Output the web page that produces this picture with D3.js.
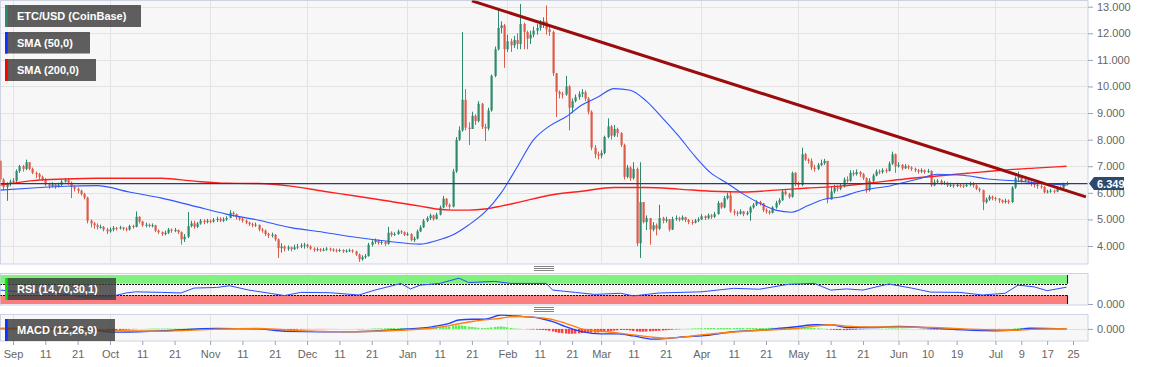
<!DOCTYPE html>
<html>
<head>
<meta charset="utf-8">
<script src="https://cdn.jsdelivr.net/npm/d3@7/dist/d3.min.js"></script>
<style>
    body { margin: 0; background: #fff; }
    svg { display: block; font-family: Arial, "Liberation Sans", sans-serif; }
    .axis path { display: none; }
    .axis line { stroke: #9aa3b5; }
    .axis text { fill: #666; font-size: 11px; }
</style>
</head>
<body>
<div id="chart"></div>
<script>
// Daily candles, day 0 = 2019-08-28. Open of each day = previous close.
const firstDay = Date.UTC(2019, 7, 28);
const firstOpen = 7.20;

const closes = [
    6.50, 6.22, 6.35, 6.42, 6.45, 6.82, 7.00, 6.90, 7.15, 6.90,
    6.75, 6.70, 6.60, 6.52, 6.32, 6.25, 6.32, 6.22, 6.30, 6.42,
    6.48, 6.38, 6.22, 6.15, 6.08, 5.95, 5.82, 4.95, 4.85, 4.78,
    4.72, 4.72, 4.62, 4.55, 4.62, 4.68, 4.66, 4.70, 4.65, 4.62,
    4.75, 4.72, 5.10, 4.92, 4.78, 4.80, 4.75, 4.78, 4.58, 4.52,
    4.45, 4.50, 4.62, 4.58, 4.60, 4.52, 4.25, 4.35, 4.75, 4.85,
    4.72, 4.85, 4.95, 4.90, 4.95, 4.92, 4.98, 5.02, 4.95, 5.00,
    5.05, 5.25, 5.20, 5.08, 5.02, 4.95, 4.88, 4.82, 4.78, 4.80,
    4.62, 4.58, 4.45, 4.40, 4.42, 4.25, 3.92, 3.98, 3.90, 3.95,
    3.88, 3.95, 3.98, 4.02, 4.05, 3.98, 3.90, 3.85, 3.88, 3.84,
    3.86, 3.90, 3.87, 3.84, 3.82, 3.85, 3.80, 3.82, 3.84, 3.80,
    3.68, 3.50, 3.58, 3.62, 4.05, 4.15, 4.22, 4.12, 4.15, 4.08,
    4.50, 4.42, 4.45, 4.55, 4.52, 4.42, 4.45, 4.22, 4.28, 4.55,
    4.70, 4.95, 5.05, 5.15, 5.02, 5.18, 5.45, 5.78, 5.55, 5.48,
    6.80, 8.00, 8.35, 9.50, 8.45, 8.40, 8.90, 8.70, 9.35, 8.48,
    8.42, 9.10, 10.40, 11.40, 12.20, 12.30, 11.40, 11.70, 11.55, 11.75,
    11.60, 12.35, 12.05, 11.80, 11.95, 12.10, 12.20, 12.35, 12.45, 12.15,
    12.05, 10.50, 9.80, 9.72, 9.70, 10.00, 9.20, 9.45, 9.60, 9.72,
    9.78, 9.55, 9.05, 7.70, 7.45, 7.40, 7.50, 8.10, 8.50, 8.15,
    8.40, 8.25, 7.80, 6.60, 6.95, 6.55, 6.90, 4.10, 5.65, 4.90,
    5.05, 4.62, 4.78, 4.65, 5.05, 4.95, 5.00, 4.62, 5.02, 5.05,
    5.00, 5.08, 4.98, 4.90, 4.88, 4.95, 5.00, 5.12, 5.05, 5.15,
    5.10, 5.20, 5.62, 5.45, 5.80, 5.90, 5.30, 5.25, 5.22, 5.30,
    5.20, 5.25, 5.45, 5.55, 5.65, 5.60, 5.35, 5.30, 5.25, 5.45,
    5.62, 5.72, 6.05, 5.95, 5.85, 6.75, 6.35, 6.30, 7.45, 7.25,
    7.20, 6.95, 6.90, 7.05, 7.12, 7.20, 5.75, 6.05, 6.20, 6.15,
    6.25, 6.50, 6.45, 6.75, 6.70, 6.78, 6.70, 6.55, 6.10, 6.45,
    6.65, 6.80, 6.78, 6.85, 6.82, 7.10, 7.45, 7.00, 7.05, 6.92,
    7.00, 6.95, 6.90, 6.85, 6.80, 6.85, 6.78, 6.82, 6.28, 6.40,
    6.45, 6.35, 6.38, 6.28, 6.30, 6.25, 6.30, 6.28, 6.25, 6.30,
    6.35, 6.28, 6.15, 6.10, 5.65, 5.75, 5.85, 5.80, 5.78, 5.72,
    5.65, 5.70, 5.65, 6.20, 6.55, 6.62, 6.45, 6.50, 6.40, 6.35,
    6.30, 6.25, 6.22, 6.02, 6.05, 6.08, 6.05, 6.20, 6.18, 6.32, 6.35
];

const highs = [
    7.22, 6.55, 6.40, 6.50, 6.55, 6.88, 7.05, 7.05, 7.25, 7.15,
    6.95, 6.80, 6.75, 6.65, 6.55, 6.38, 6.40, 6.35, 6.38, 6.48,
    6.55, 6.55, 6.42, 6.28, 6.20, 6.12, 6.00, 5.85, 5.00, 4.90,
    4.85, 4.80, 4.75, 4.68, 4.70, 4.75, 4.72, 4.76, 4.72, 4.70,
    4.80, 4.80, 5.30, 5.12, 4.95, 4.88, 4.85, 4.85, 4.80, 4.62,
    4.55, 4.58, 4.68, 4.66, 4.68, 4.62, 4.55, 4.45, 5.28, 4.95,
    4.95, 4.90, 5.02, 5.00, 5.02, 5.00, 5.05, 5.10, 5.08, 5.08,
    5.12, 5.35, 5.30, 5.22, 5.12, 5.08, 5.00, 4.92, 4.88, 4.88,
    4.80, 4.68, 4.62, 4.50, 4.50, 4.45, 4.28, 4.10, 4.02, 4.02,
    3.98, 4.05, 4.08, 4.10, 4.12, 4.08, 4.02, 3.95, 3.95, 3.92,
    3.93, 3.96, 3.94, 3.92, 3.90, 3.90, 3.88, 3.88, 3.90, 3.88,
    3.82, 3.72, 3.65, 3.70, 4.12, 4.22, 4.28, 4.25, 4.22, 4.18,
    4.72, 4.55, 4.52, 4.62, 4.60, 4.55, 4.52, 4.48, 4.35, 4.62,
    4.78, 5.02, 5.12, 5.22, 5.18, 5.25, 5.52, 5.88, 5.80, 5.60,
    6.90, 8.10, 8.50, 12.05, 9.90, 8.65, 9.05, 8.95, 9.45, 9.38,
    8.60, 9.20, 10.45, 11.50, 12.90, 12.45, 12.35, 11.95, 11.80, 11.90,
    12.00, 13.10, 12.40, 12.10, 12.10, 12.25, 12.35, 12.50, 12.60, 13.05,
    12.30, 12.10, 10.45, 9.85, 9.80, 10.40, 10.05, 9.55, 9.70, 9.82,
    9.90, 9.85, 9.60, 9.10, 7.80, 7.55, 7.60, 8.15, 8.80, 8.55,
    8.55, 8.45, 8.28, 7.85, 7.05, 7.00, 7.15, 6.95, 7.15, 5.65,
    5.15, 5.05, 4.90, 4.85, 5.55, 5.10, 5.10, 5.02, 5.10, 5.15,
    5.10, 5.15, 5.10, 5.02, 4.98, 5.02, 5.08, 5.20, 5.15, 5.22,
    5.20, 5.28, 5.70, 5.65, 5.88, 6.00, 6.02, 5.38, 5.32, 5.38,
    5.32, 5.32, 5.50, 5.62, 5.72, 5.70, 5.62, 5.42, 5.35, 5.50,
    5.70, 5.80, 6.12, 6.15, 6.00, 6.80, 6.78, 6.42, 7.70, 7.50,
    7.30, 7.30, 7.05, 7.12, 7.25, 7.28, 7.08, 6.25, 6.30, 6.28,
    6.35, 6.58, 6.62, 6.85, 6.85, 6.88, 6.82, 6.75, 6.58, 6.55,
    6.72, 6.88, 6.88, 6.92, 6.92, 7.18, 7.55, 7.48, 7.15, 7.08,
    7.08, 7.05, 7.00, 6.95, 6.90, 6.92, 6.88, 6.90, 6.85, 6.50,
    6.52, 6.50, 6.45, 6.42, 6.38, 6.35, 6.38, 6.35, 6.32, 6.38,
    6.42, 6.40, 6.32, 6.20, 6.12, 5.82, 5.92, 5.90, 5.85, 5.80,
    5.75, 5.78, 5.75, 6.25, 6.62, 6.80, 6.65, 6.58, 6.52, 6.45,
    6.40, 6.35, 6.32, 6.25, 6.12, 6.15, 6.12, 6.25, 6.25, 6.38, 6.42
];

const lows = [
    6.40, 6.10, 5.70, 6.25, 6.35, 6.40, 6.75, 6.80, 6.85, 6.85,
    6.70, 6.55, 6.50, 6.45, 6.25, 6.15, 6.20, 6.15, 6.20, 6.25,
    6.38, 6.30, 5.80, 6.05, 5.98, 5.90, 5.75, 4.85, 4.70, 4.65,
    4.62, 4.65, 4.55, 4.45, 4.50, 4.55, 4.58, 4.62, 4.58, 4.55,
    4.58, 4.65, 4.70, 4.85, 4.72, 4.70, 4.70, 4.70, 4.52, 4.45,
    4.38, 4.40, 4.45, 4.50, 4.52, 4.45, 4.05, 4.15, 4.30, 4.70,
    4.65, 4.68, 4.80, 4.82, 4.85, 4.85, 4.88, 4.90, 4.90, 4.90,
    4.95, 5.05, 5.10, 5.00, 4.95, 4.88, 4.82, 4.75, 4.70, 4.72,
    4.55, 4.50, 4.38, 4.30, 4.32, 4.18, 3.55, 3.75, 3.80, 3.82,
    3.80, 3.85, 3.88, 3.92, 3.90, 3.92, 3.85, 3.78, 3.80, 3.78,
    3.80, 3.82, 3.80, 3.78, 3.76, 3.78, 3.74, 3.75, 3.77, 3.74,
    3.62, 3.40, 3.45, 3.52, 3.60, 3.98, 4.08, 4.05, 4.05, 4.00,
    4.05, 4.35, 4.38, 4.42, 4.45, 4.38, 4.38, 4.18, 4.15, 4.25,
    4.52, 4.68, 4.90, 4.98, 4.95, 5.00, 5.15, 5.42, 5.48, 5.40,
    5.45, 6.75, 7.95, 8.30, 8.35, 7.80, 8.40, 8.55, 8.65, 8.40,
    7.95, 8.35, 9.05, 10.35, 11.35, 12.00, 10.70, 11.30, 11.30, 11.45,
    11.40, 11.40, 11.40, 11.40, 11.60, 11.85, 11.95, 12.10, 12.20, 11.95,
    11.90, 10.40, 8.85, 9.55, 9.55, 9.65, 8.35, 9.00, 9.40, 9.50,
    9.60, 9.45, 8.95, 7.60, 7.30, 7.25, 7.30, 7.45, 8.05, 8.00,
    8.10, 8.10, 7.72, 6.50, 6.55, 6.45, 6.50, 4.00, 3.55, 4.85,
    4.60, 4.05, 4.55, 4.40, 4.60, 4.85, 4.88, 4.55, 4.60, 4.95,
    4.92, 4.95, 4.90, 4.82, 4.80, 4.85, 4.90, 4.98, 4.98, 5.00,
    5.02, 5.05, 5.18, 5.40, 5.42, 5.75, 5.25, 5.15, 5.12, 5.18,
    5.12, 5.15, 4.95, 5.40, 5.50, 5.52, 5.28, 5.22, 5.18, 5.22,
    5.40, 5.55, 5.70, 5.90, 5.78, 5.82, 6.25, 6.20, 6.25, 7.20,
    7.10, 6.85, 6.80, 6.85, 7.00, 7.05, 5.60, 5.85, 5.98, 6.05,
    6.10, 6.20, 6.38, 6.42, 6.62, 6.65, 6.60, 6.48, 6.00, 6.05,
    6.40, 6.62, 6.70, 6.72, 6.75, 6.80, 7.05, 6.75, 6.95, 6.85,
    6.90, 6.88, 6.82, 6.78, 6.72, 6.75, 6.72, 6.75, 6.22, 6.25,
    6.35, 6.30, 6.30, 6.22, 6.22, 6.18, 6.22, 6.20, 6.18, 6.22,
    6.25, 6.20, 6.10, 6.02, 5.35, 5.60, 5.70, 5.72, 5.70, 5.62,
    5.60, 5.60, 5.58, 5.62, 6.15, 6.40, 6.38, 6.40, 6.32, 6.25,
    6.20, 6.15, 6.15, 5.98, 5.98, 6.00, 5.98, 6.02, 6.10, 6.15, 6.28
];

const lastPrice = 6.349;

// Moving averages, read at sample days
const sma50Days = [0, 10, 20, 30, 40, 50, 60, 70, 80, 90, 100, 110, 120,
    130, 135, 140, 145, 150, 155, 160, 165, 170, 175, 180, 185, 190, 195, 200, 205,
    210, 215, 220, 225, 230, 235, 240, 245, 250, 255, 260, 265, 270, 275, 280, 285,
    290, 295, 300, 305, 310, 315, 320, 325, 330];
const sma50 = [6.10, 6.18, 6.25, 6.27, 6.03, 5.80, 5.50, 5.20, 4.97, 4.69, 4.52, 4.33, 4.18,
    4.07, 4.20, 4.41, 4.79, 5.27, 5.99, 6.97, 7.98, 8.51, 8.85, 9.30, 9.60, 9.92, 9.86, 9.45, 8.81,
    8.13, 7.38, 6.74, 6.36, 5.95, 5.61, 5.35, 5.27, 5.52, 5.76, 5.84, 6.03, 6.16, 6.25, 6.40, 6.55,
    6.70, 6.68, 6.63, 6.53, 6.48, 6.44, 6.38, 6.33, 6.29];

const sma200Days = [0, 10, 20, 30, 40, 50, 60, 70, 80, 90, 100, 110, 120, 130,
    135, 140, 145, 150, 155, 160, 170, 180, 190, 200, 210, 220, 230, 240, 250, 260,
    270, 280, 290, 300, 310, 320, 330];
const sma200 = [6.29, 6.46, 6.52, 6.55, 6.55, 6.55, 6.44, 6.36, 6.35, 6.25, 6.06, 5.88, 5.69, 5.50,
    5.39, 5.35, 5.35, 5.39, 5.50, 5.63, 5.91, 6.06, 6.20, 6.20, 6.14, 6.06, 6.03, 6.10, 6.18, 6.25,
    6.38, 6.52, 6.63, 6.74, 6.85, 6.93, 7.00];

// Falling trend line from the February top
const trendDays = [146, 336];
const trendPrices = [13.22, 5.85];

// RSI (14)
const rsiDays = [0, 6, 15, 27, 34, 39, 42, 50, 56, 60, 67, 71, 77, 84, 88, 93, 102, 111, 116, 121,
    124, 127, 130, 136, 142, 145, 153, 158, 169, 171, 178, 184, 192, 196, 204, 217, 227, 235, 244, 252,
    257, 262, 267, 275, 282, 288, 297, 304, 311, 315, 320, 324, 330];
const rsiValues = [48, 42, 40, 23, 25, 38, 42, 40, 38, 55, 57, 63, 48, 36, 29, 40, 39, 31, 48, 62,
    71, 52, 65, 71, 89, 74, 78, 71, 71, 48, 40, 33, 37, 28, 38, 42, 54, 51, 68, 71,
    48, 52, 48, 69, 55, 41, 40, 31, 37, 65, 59, 46, 58];

// MACD (12,26,9)
const macdDays = [0, 15, 27, 35, 50, 67, 80, 88, 100, 110, 124, 134, 139, 142, 146, 150, 155, 158, 162, 167,
    171, 175, 180, 186, 191, 196, 202, 206, 212, 217, 227, 237, 247, 252, 257, 262, 270, 278, 288, 298,
    308, 314, 319, 330];
const macdLine = [0.05, 0.02, -0.05, -0.35, -0.2, 0.05, 0.0, -0.25, -0.3, -0.3, -0.05, 0.25, 0.6, 0.95, 1.04, 1.04, 1.5, 1.42, 1.32, 1.15,
    0.79, 0.25, -0.29, -0.54, -0.54, -0.75, -1.1, -1.04, -0.85, -0.75, -0.3, -0.1, 0.25, 0.45, 0.45, 0.15, 0.15, 0.25, 0.1, -0.1,
    -0.2, -0.12, 0.07, 0.0];
const signalLine = [0.03, 0.03, 0.0, -0.2, -0.25, -0.02, 0.05, -0.1, -0.28, -0.3, -0.15, 0.1, 0.35, 0.55, 0.8, 0.97, 1.15, 1.3, 1.32, 1.2,
    1.0, 0.6, 0.0, -0.25, -0.43, -0.65, -0.9, -1.0, -0.85, -0.64, -0.33, -0.12, 0.07, 0.3, 0.45, 0.3, 0.2, 0.2, 0.15, 0.0,
    -0.12, -0.15, -0.05, 0.02];
const macdHist = [
    0.02, 0.02, 0.03, 0.03, 0.02, 0.02, 0.01, 0.01, 0.00, 0.00,
    -0.01, -0.01, -0.01, -0.01, -0.01, -0.01, -0.02, -0.02, -0.02, -0.02,
    -0.02, -0.03, -0.03, -0.03, -0.03, -0.04, -0.04, -0.06, -0.09, -0.11,
    -0.13, -0.14, -0.15, -0.15, -0.15, -0.15, -0.14, -0.12, -0.10, -0.08,
    -0.06, -0.04, -0.02, 0.00, 0.01, 0.02, 0.03, 0.04, 0.04, 0.05,
    0.05, 0.05, 0.05, 0.04, 0.04, 0.03, 0.02, 0.03, 0.05, 0.06,
    0.07, 0.07, 0.07, 0.07, 0.07, 0.07, 0.07, 0.07, 0.06, 0.06,
    0.05, 0.04, 0.03, 0.02, 0.01, 0.00, -0.01, -0.02, -0.03, -0.04,
    -0.05, -0.06, -0.07, -0.08, -0.09, -0.10, -0.12, -0.13, -0.14, -0.13,
    -0.12, -0.10, -0.08, -0.06, -0.04, -0.03, -0.02, -0.02, -0.02, -0.02,
    -0.02, -0.01, -0.01, -0.01, -0.01, 0.00, 0.00, 0.00, 0.00, 0.00,
    -0.01, -0.02, -0.02, 0.00, 0.02, 0.04, 0.05, 0.06, 0.06, 0.07,
    0.08, 0.09, 0.09, 0.09, 0.09, 0.08, 0.08, 0.07, 0.07, 0.08,
    0.10, 0.12, 0.14, 0.15, 0.16, 0.17, 0.18, 0.19, 0.20, 0.24,
    0.30, 0.35, 0.38, 0.36, 0.30, 0.24, 0.20, 0.16, 0.12, 0.10,
    0.10, 0.12, 0.16, 0.20, 0.24, 0.26, 0.22, 0.16, 0.10, 0.06,
    0.04, 0.02, 0.00, -0.02, -0.04, -0.06, -0.08, -0.10, -0.12, -0.15,
    -0.20, -0.28, -0.36, -0.42, -0.46, -0.50, -0.52, -0.52, -0.50, -0.48,
    -0.45, -0.42, -0.40, -0.40, -0.40, -0.38, -0.34, -0.30, -0.26, -0.22,
    -0.18, -0.15, -0.12, -0.10, -0.12, -0.16, -0.22, -0.28, -0.30, -0.30,
    -0.28, -0.26, -0.24, -0.22, -0.20, -0.17, -0.14, -0.11, -0.08, -0.05,
    -0.03, -0.01, 0.01, 0.03, 0.05, 0.06, 0.07, 0.08, 0.09, 0.10,
    0.10, 0.10, 0.10, 0.10, 0.10, 0.10, 0.10, 0.10, 0.10, 0.10,
    0.10, 0.10, 0.10, 0.10, 0.10, 0.10, 0.10, 0.10, 0.11, 0.12,
    0.13, 0.14, 0.15, 0.16, 0.17, 0.18, 0.18, 0.18, 0.17, 0.16,
    0.14, 0.12, 0.10, 0.08, 0.05, 0.02, -0.04, -0.08, -0.10, -0.12,
    -0.13, -0.13, -0.13, -0.12, -0.10, -0.08, -0.06, -0.04, -0.02, -0.01,
    0.00, 0.01, 0.02, 0.03, 0.04, 0.05, 0.06, 0.06, 0.05, 0.04,
    0.03, 0.02, 0.01, 0.00, -0.01, -0.02, -0.03, -0.05, -0.06, -0.07,
    -0.07, -0.07, -0.07, -0.07, -0.07, -0.07, -0.07, -0.07, -0.07, -0.07,
    -0.07, -0.07, -0.07, -0.07, -0.08, -0.08, -0.08, -0.07, -0.06, -0.05,
    -0.04, -0.03, -0.02, 0.02, 0.06, 0.09, 0.11, 0.12, 0.12, 0.11,
    0.10, 0.08, 0.06, 0.04, 0.02, 0.01, 0.00, -0.01, -0.01, 0.00, 0.01
];

// Axis ticks
const priceTicks = [4, 5, 6, 7, 8, 9, 10, 11, 12, 13];
const dateTicks = [[2019, 8, 1], [2019, 8, 11], [2019, 8, 21], [2019, 9, 1], [2019, 9, 11], [2019, 9, 21],
    [2019, 10, 1], [2019, 10, 11], [2019, 10, 21], [2019, 11, 1], [2019, 11, 11], [2019, 11, 21],
    [2020, 0, 1], [2020, 0, 11], [2020, 0, 21], [2020, 1, 1], [2020, 1, 11], [2020, 1, 21],
    [2020, 2, 1], [2020, 2, 11], [2020, 2, 21], [2020, 3, 1], [2020, 3, 11], [2020, 3, 21],
    [2020, 4, 1], [2020, 4, 11], [2020, 4, 21], [2020, 5, 1], [2020, 5, 10], [2020, 5, 19],
    [2020, 6, 1], [2020, 6, 9], [2020, 6, 17], [2020, 6, 25]];
const dateTickLabels = ["Sep", "11", "21", "Oct", "11", "21", "Nov", "11", "21", "Dec", "11", "21",
    "Jan", "11", "21", "Feb", "11", "21", "Mar", "11", "21", "Apr", "11", "21",
    "May", "11", "21", "Jun", "10", "19", "Jul", "9", "17", "25"];

/* Set up */
const width = 1153, height = 367;
const plotRight = 1088;
const mainTop = 0, mainBottom = 264;
const rsiTop = 273, rsiBottom = 305;
const macdTop = 314, macdBottom = 341;

const green = "#2e8a6e", red = "#dc5c4a";

let dayDate = d => new Date(firstDay + d * 864e5);

let svg = d3.select("#chart").append("svg")
    .attr("width", width)
    .attr("height", height);

let xScale = d3.scaleUtc()
    .domain([new Date(Date.UTC(2019, 8, 1)), new Date(Date.UTC(2020, 6, 25))])
    .range([13, 1073]);
let yScale = d3.scaleLinear().domain([4, 13]).range([246, 6.7]);
let rsiScale = d3.scaleLinear().domain([0, 100]).range([304, 275]);
let macdScale = d3.scaleLinear().domain([-1.3, 1.6]).range([341, 314]);

let tickDates = dateTicks.map(t => new Date(Date.UTC(t[0], t[1], t[2])));
let monthStarts = tickDates.filter((d, i) => isNaN(+dateTickLabels[i]));

let defs = svg.append("defs");
[["clipMain", mainTop, mainBottom], ["clipRsi", rsiTop, rsiBottom], ["clipMacd", macdTop, macdBottom]]
    .forEach(([id, t, b]) => {
        defs.append("clipPath").attr("id", id)
            .append("rect").attr("x", 0.5).attr("y", t + 0.5)
            .attr("width", plotRight - 1).attr("height", b - t - 1);
    });

/* Panel backgrounds and grid */
[[mainTop, mainBottom], [rsiTop, rsiBottom], [macdTop, macdBottom]].forEach(([t, b]) => {
    svg.append("rect")
        .attr("x", 0.5).attr("y", t + 0.5)
        .attr("width", plotRight - 0.5).attr("height", b - t - 0.5)
        .attr("fill", "#f7f7f7")
        .attr("stroke", "#cdd3e3");
    svg.append("g").selectAll("line")
        .data(monthStarts)
        .enter().append("line")
        .attr("x1", d => Math.round(xScale(d)) + 0.5).attr("x2", d => Math.round(xScale(d)) + 0.5)
        .attr("y1", t + 1).attr("y2", b)
        .attr("stroke", "#e3e3e3");
});

svg.append("g").selectAll("line")
    .data(priceTicks)
    .enter().append("line")
    .attr("x1", 1).attr("x2", plotRight)
    .attr("y1", d => Math.round(yScale(d)) + 0.5).attr("y2", d => Math.round(yScale(d)) + 0.5)
    .attr("stroke", "#e3e3e3");

svg.append("line")
    .attr("x1", 1).attr("x2", plotRight)
    .attr("y1", Math.round(macdScale(0)) + 0.5).attr("y2", Math.round(macdScale(0)) + 0.5)
    .attr("stroke", "#e0e0e0");

/* Main panel: candles, averages, trend */
let main = svg.append("g").attr("clip-path", "url(#clipMain)");

let candles = closes.map((c, i) => ({
    date: dayDate(i),
    open: i === 0 ? firstOpen : closes[i - 1],
    close: c,
    high: highs[i],
    low: lows[i]
}));

let candle = main.selectAll(".candle")
    .data(candles)
    .enter().append("g")
    .attr("class", "candle")
    .attr("fill", d => d.close >= d.open ? green : red)
    .attr("stroke", d => d.close >= d.open ? green : red);

candle.append("line")
    .attr("x1", d => Math.round(xScale(d.date)) + 0.5)
    .attr("x2", d => Math.round(xScale(d.date)) + 0.5)
    .attr("y1", d => yScale(Math.max(d.high, d.open, d.close)))
    .attr("y2", d => yScale(Math.min(d.low, d.open, d.close)))
    .attr("stroke-width", 1);

candle.append("rect")
    .attr("x", d => Math.round(xScale(d.date)) - 0.5)
    .attr("y", d => yScale(Math.max(d.open, d.close)))
    .attr("width", 2.2)
    .attr("height", d => Math.max(1, Math.abs(yScale(d.open) - yScale(d.close))))
    .attr("stroke", "none");

let line = d3.line()
    .x(d => xScale(dayDate(d[0])))
    .y(d => yScale(d[1]))
    .curve(d3.curveMonotoneX);

main.append("path")
    .datum(sma200Days.map((d, i) => [d, sma200[i]]))
    .attr("d", line)
    .attr("fill", "none")
    .attr("stroke", "#ff1f1f")
    .attr("stroke-width", 1.4);

main.append("path")
    .datum(sma50Days.map((d, i) => [d, sma50[i]]))
    .attr("d", line)
    .attr("fill", "none")
    .attr("stroke", "#2f55ff")
    .attr("stroke-width", 1.1);

main.append("line")
    .attr("x1", 0).attr("x2", plotRight)
    .attr("y1", yScale(lastPrice)).attr("y2", yScale(lastPrice))
    .attr("stroke", "#2b3f66")
    .attr("stroke-width", 1.3);

main.append("line")
    .attr("x1", xScale(dayDate(trendDays[0]))).attr("x2", xScale(dayDate(trendDays[1])))
    .attr("y1", yScale(trendPrices[0])).attr("y2", yScale(trendPrices[1]))
    .attr("stroke", "#9b0d0d")
    .attr("stroke-width", 3);

/* RSI panel */
let rsi = svg.append("g").attr("clip-path", "url(#clipRsi)");
let bandRight = xScale(dayDate(closes.length - 1)) + 1;

rsi.append("rect")
    .attr("x", 0).attr("width", bandRight)
    .attr("y", rsiScale(100)).attr("height", rsiScale(70) - rsiScale(100))
    .attr("fill", "#7ff27f");
rsi.append("rect")
    .attr("x", 0).attr("width", bandRight)
    .attr("y", rsiScale(30)).attr("height", rsiScale(0) - rsiScale(30))
    .attr("fill", "#fb7f7f");
[70, 30].forEach(v => {
    rsi.append("line")
        .attr("x1", 0).attr("x2", bandRight)
        .attr("y1", Math.round(rsiScale(v)) + 0.5).attr("y2", Math.round(rsiScale(v)) + 0.5)
        .attr("stroke", "#111")
        .attr("stroke-dasharray", "2,1");
});
[[100, 70], [30, 0]].forEach(([a, b]) => {
    rsi.append("line")
        .attr("x1", bandRight).attr("x2", bandRight)
        .attr("y1", rsiScale(a)).attr("y2", rsiScale(b))
        .attr("stroke", "#111");
});

rsi.append("path")
    .datum(rsiDays.map((d, i) => [d, rsiValues[i]]))
    .attr("d", d3.line().x(d => xScale(dayDate(d[0]))).y(d => rsiScale(d[1])))
    .attr("fill", "none")
    .attr("stroke", "#2a4cff")
    .attr("stroke-width", 1);

/* MACD panel */
let macd = svg.append("g").attr("clip-path", "url(#clipMacd)");

macd.selectAll(".hist")
    .data(macdHist)
    .enter().append("rect")
    .attr("class", "hist")
    .attr("x", (d, i) => Math.round(xScale(dayDate(i))) - 1)
    .attr("width", 2.4)
    .attr("y", d => macdScale(Math.max(0, d)))
    .attr("height", d => Math.abs(macdScale(d) - macdScale(0)))
    .attr("fill", d => d >= 0 ? "#22ee22" : "#ff1010")
    .attr("opacity", 0.8);

let macdPath = d3.line()
    .x(d => xScale(dayDate(d[0])))
    .y(d => macdScale(d[1]))
    .curve(d3.curveMonotoneX);

macd.append("path")
    .datum(macdDays.map((d, i) => [d, macdLine[i]]))
    .attr("d", macdPath)
    .attr("fill", "none")
    .attr("stroke", "#2040ff")
    .attr("stroke-width", 1.4);

macd.append("path")
    .datum(macdDays.map((d, i) => [d, signalLine[i]]))
    .attr("d", macdPath)
    .attr("fill", "none")
    .attr("stroke", "#ff7f0e")
    .attr("stroke-width", 1.4);

/* Axes */
svg.append("g")
    .attr("class", "axis")
    .attr("transform", `translate(${plotRight}, 0)`)
    .call(d3.axisRight(yScale).tickValues(priceTicks).tickFormat(d3.format(".3f")).tickSize(5).tickPadding(4));

svg.append("g")
    .attr("class", "axis")
    .attr("transform", `translate(${plotRight}, 0)`)
    .call(d3.axisRight(rsiScale).tickValues([0]).tickFormat(d3.format(".3f")).tickSize(5).tickPadding(4));

svg.append("g")
    .attr("class", "axis")
    .attr("transform", `translate(${plotRight}, 0)`)
    .call(d3.axisRight(macdScale).tickValues([0]).tickFormat(d3.format(".3f")).tickSize(5).tickPadding(4));

svg.append("g")
    .attr("class", "axis")
    .attr("transform", `translate(0, ${macdBottom})`)
    .call(d3.axisBottom(xScale).tickValues(tickDates).tickFormat((d, i) => dateTickLabels[i]).tickSize(4).tickPadding(5));

svg.selectAll(".axis text").attr("fill", "#666");

/* Last price tag */
let tagY = yScale(lastPrice);
let tag = svg.append("g").attr("transform", `translate(${plotRight}, ${tagY})`);
tag.append("path")
    .attr("d", "M1,0 L6,-6.5 L36,-6.5 L36,6.5 L6,6.5 Z")
    .attr("fill", "#2d4a6e");
tag.append("text")
    .attr("x", 9).attr("y", 4)
    .attr("fill", "#fff")
    .attr("font-size", "11px")
    .attr("font-weight", "bold")
    .text(lastPrice.toFixed(3));

/* Panel grips */
[268, 309].forEach(gy => {
    [0, 2, 4].forEach(k => {
        svg.append("line")
            .attr("x1", 534).attr("x2", 554)
            .attr("y1", gy - 1.5 + k).attr("y2", gy - 1.5 + k)
            .attr("stroke", "#666")
            .attr("stroke-width", 0.8);
    });
});

/* Legend labels */
function label(x, y, w, h, color, text) {
    let g = svg.append("g");
    g.append("rect")
        .attr("x", x).attr("y", y).attr("width", w).attr("height", h)
        .attr("fill", "#3c3c3c")
        .attr("opacity", 0.82);
    g.append("rect")
        .attr("x", x).attr("y", y).attr("width", 2.7).attr("height", h)
        .attr("fill", color);
    g.append("text")
        .attr("x", x + 12).attr("y", y + h / 2 + 4)
        .attr("fill", "#fff")
        .attr("font-size", "11px")
        .attr("font-weight", "bold")
        .text(text);
}

label(5, 5, 136, 22, green, "ETC/USD (CoinBase)");
label(5, 32, 85, 21.5, "#1030ff", "SMA (50,0)");
label(5, 59, 91, 22, "#ff0000", "SMA (200,0)");
label(5, 278, 111, 22, "#10e010", "RSI (14,70,30,1)");
label(5, 319, 110, 22, "#1030ff", "MACD (12,26,9)");
</script>
</body>
</html>
